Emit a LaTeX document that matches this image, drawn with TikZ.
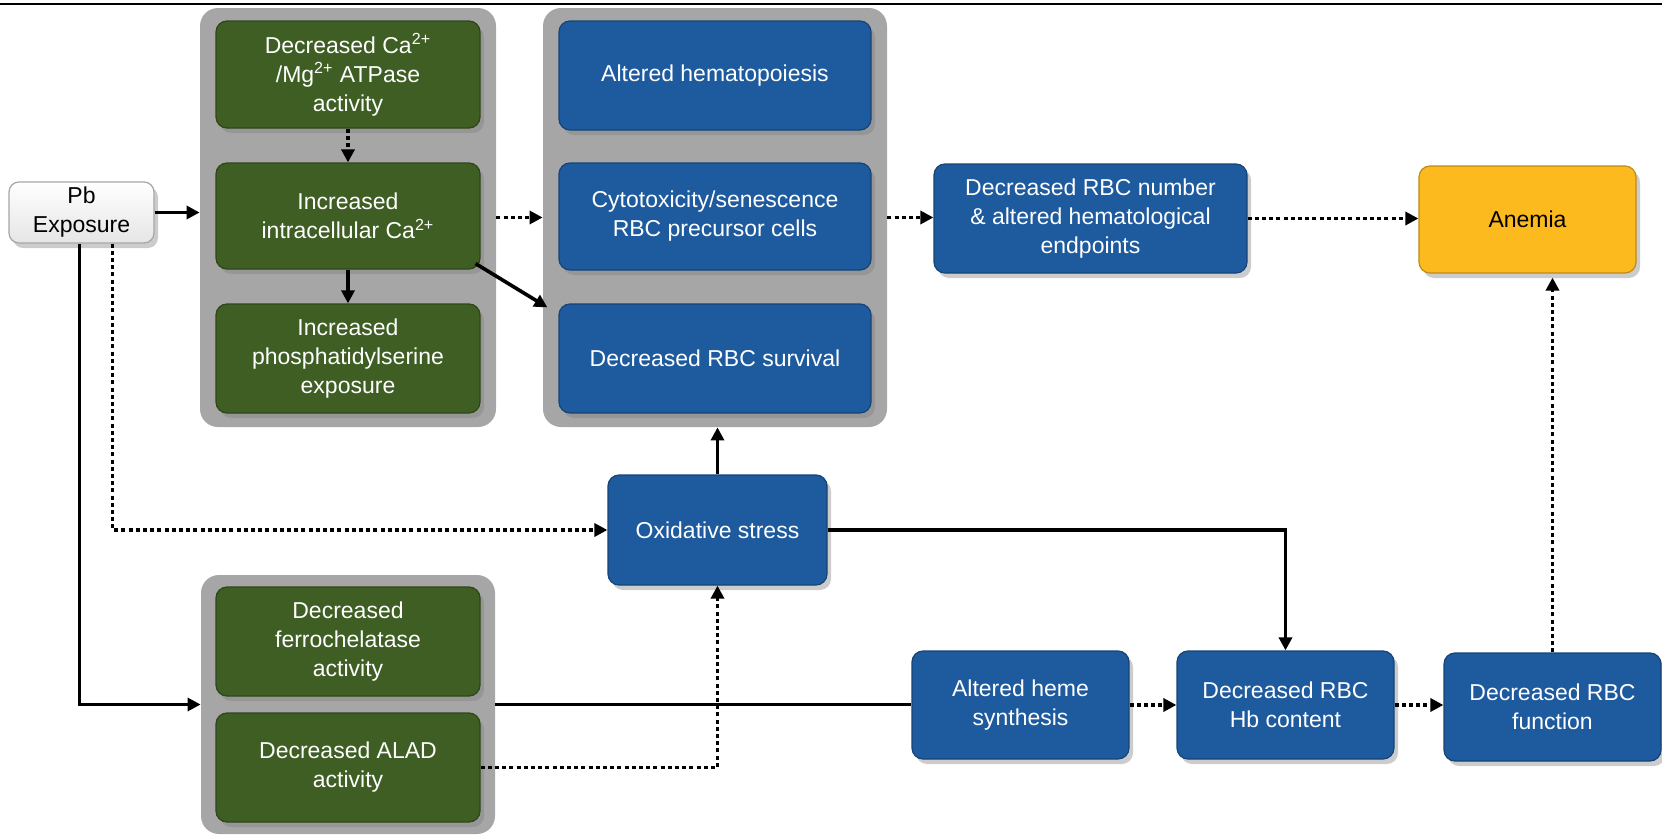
\documentclass[tikz,border=0pt]{standalone}
\usepackage{fontspec}
\setmainfont{Liberation Sans}
\usetikzlibrary{arrows.meta,shadows}
\definecolor{boxblue}{RGB}{30,90,158}
\definecolor{boxgreen}{RGB}{62,94,36}
\definecolor{boxgold}{RGB}{252,186,30}
\definecolor{grpgray}{RGB}{166,166,166}

\begin{document}
\begin{tikzpicture}[x=0.5pt, y=-0.5pt, font=\fontsize{11.5}{14.5}\selectfont,
	box/.style={rounded corners=5.5pt, draw=#1!75!black, line width=0.6pt, fill=#1, text=white, align=center, inner sep=0pt,
		drop shadow={opacity=.4, shadow xshift=2pt, shadow yshift=-2.5pt}},
	grp/.style={rounded corners=9pt, fill=grpgray, inner sep=0pt},
	arr/.style={line width=1.8pt, -{Triangle[length=6.5pt,width=6.5pt]}},
	dotarr/.style={line width=1.8pt, dash pattern=on 2pt off 1.6pt, -{Triangle[length=6.5pt,width=6.5pt]}},
	link/.style={line width=1.8pt}]
	\useasboundingbox (0,0) rectangle (1662,835);
	\draw[line width=1.3pt] (0,4) -- (1662,4);
	\node[grp, minimum width=148pt, minimum height=209.5pt] (topgrp) at (348,217.5) {};
	\node[grp, minimum width=172pt, minimum height=209.5pt] (bluegrp) at (715,217.5) {};
	\node[grp, minimum width=147pt, minimum height=129.5pt] (lowgrp) at (348,704.5) {};
	\node[box=white, text=black, draw=gray!70, top color=white, bottom color=gray!20, rounded corners=5pt, minimum width=72.5pt, minimum height=30.5pt] (pb) at (81.5,212.5) {Pb\\Exposure};
	\node[box=boxgreen, minimum width=132pt, minimum height=53.5pt] (g1) at (348,74.5) {Decreased Ca\textsuperscript{2+}\\/Mg\textsuperscript{2+} ATPase\\activity};
	\node[box=boxgreen, minimum width=132pt, minimum height=53pt] (g2) at (348,216) {Increased\\intracellular Ca\textsuperscript{2+}};
	\node[box=boxgreen, minimum width=132pt, minimum height=54.5pt] (g3) at (348,358.5) {Increased\\phosphatidylserine\\exposure};
	\node[box=boxblue, minimum width=156pt, minimum height=54.5pt] (b1) at (715,75.5) {Altered hematopoiesis};
	\node[box=boxblue, minimum width=156pt, minimum height=53.5pt] (b2) at (715,216.5) {Cytotoxicity/senescence\\RBC precursor cells};
	\node[box=boxblue, minimum width=156pt, minimum height=54.5pt] (b3) at (715,358.5) {Decreased RBC survival};
	\node[box=boxblue, minimum width=156.5pt, minimum height=54.5pt] (rbcnum) at (1090.5,218.5) {Decreased RBC number\\\& altered hematological\\endpoints};
	\node[box=boxgold, text=black, minimum width=108.5pt, minimum height=53.5pt] (anemia) at (1527.5,219.5) {Anemia};
	\node[box=boxblue, minimum width=109.5pt, minimum height=55pt] (oxi) at (717.5,530) {Oxidative stress};
	\node[box=boxgreen, minimum width=132pt, minimum height=54.5pt] (ferro) at (348,641.5) {Decreased\\ferrochelatase\\activity};
	\node[box=boxgreen, minimum width=132pt, minimum height=54.5pt] (alad) at (348,767.5) {Decreased ALAD\\activity};
	\node[box=boxblue, minimum width=108.5pt, minimum height=54pt] (heme) at (1020.5,705) {Altered heme\\synthesis};
	\node[box=boxblue, minimum width=108.5pt, minimum height=54pt] (hb) at (1285.5,705) {Decreased RBC\\Hb content};
	\node[box=boxblue, minimum width=108.5pt, minimum height=54pt] (fn) at (1552.5,707) {Decreased RBC\\function};
	\draw[arr] (pb.east) -- (pb.east -| topgrp.west);
	\draw[dotarr] (g1.south) -- (g2.north);
	\draw[arr] (g2.south) -- (g3.north);
	\draw[dotarr] (topgrp.east) -- (bluegrp.west);
	\draw[arr] ([xshift=-2.5pt,yshift=3pt]g2.south east) -- ([xshift=-5.5pt,yshift=-2pt]b3.north west);
	\draw[dotarr] (bluegrp.east) -- (bluegrp.east -| rbcnum.west);
	\draw[dotarr] (rbcnum.east) -- (rbcnum.east -| anemia.west);
	\draw[arr] ([xshift=-1pt]pb.south) |- (lowgrp.west);
	\draw[dotarr] ([xshift=15.5pt]pb.south) |- (oxi.west);
	\draw[arr] (oxi.north) -- (oxi.north |- bluegrp.south);
	\draw[arr] (oxi.east) -| (hb.north);
	\draw[dotarr] (alad.east) -| (oxi.south);
	\draw[link] (lowgrp.east) -- (lowgrp.east -| heme.west);
	\draw[dotarr] (heme.east) -- (heme.east -| hb.west);
	\draw[dotarr] (hb.east) -- (hb.east -| fn.west);
	\draw[dotarr, shorten >=2pt] (fn.north) -- (fn.north |- anemia.south);
\end{tikzpicture}
\end{document}
